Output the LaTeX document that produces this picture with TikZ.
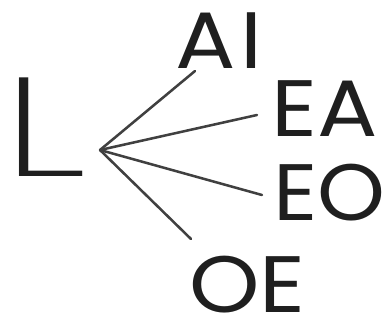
\documentclass[tikz,border=0pt]{standalone}
\usepackage{fontspec}
\setmainfont{Poppins}
\newfontfamily\lightfont{Poppins ExtraLight}
\begin{document}
\begin{tikzpicture}[x=0.75pt,y=-0.75pt,
  lbl/.style={inner sep=0pt, text=black!88, font=\fontsize{60}{60}\selectfont},
  big/.style={inner sep=0pt, text=black!88, font=\lightfont\fontsize{62}{62}\selectfont},
  link/.style={draw=black!75, line width=1.9pt, line cap=round}]
\useasboundingbox (0,0) rectangle (384,323);
\node[big] (L) at (45,127) {\scalebox{2.5}[1.7]{L}};
\node[lbl] (AI) at (219,40.5) {\scalebox{1.12}[1]{A\kern0.06em I}};
\node[lbl] (EA) at (325,109) {\scalebox{1.12}[1]{EA}};
\node[lbl] (EO) at (329.5,192.5) {\scalebox{1.08}[1]{EO}};
\node[lbl] (OE) at (247.5,285) {\scalebox{1.12}[1]{OE}};
\coordinate (hub) at (100,150);
\coordinate (tAI) at (195,71);
\coordinate (tEA) at (257,115);
\coordinate (tEO) at (262,195);
\coordinate (tOE) at (191,239);
\draw[link] (hub) -- (tAI);
\draw[link] (hub) -- (tEA);
\draw[link] (hub) -- (tEO);
\draw[link] (hub) -- (tOE);
\end{tikzpicture}
\end{document}
